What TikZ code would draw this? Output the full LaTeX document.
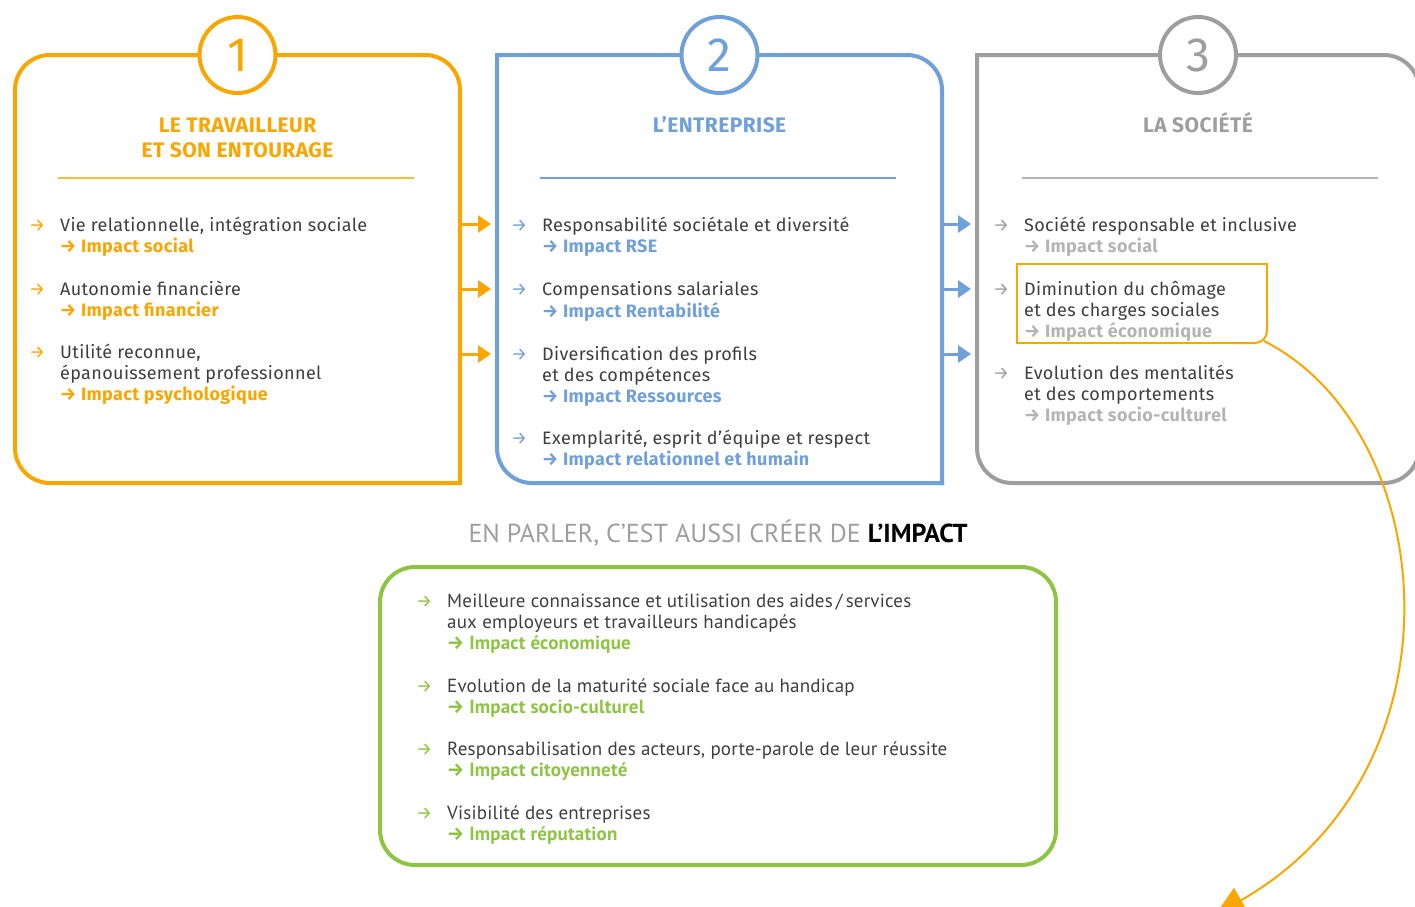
\documentclass[tikz,border=0pt]{standalone}
\usepackage{fontspec}
\setmainfont{Fira Sans}[LetterSpace=2]
\newfontfamily\arrfont{Fira Sans}
\newfontfamily\narrowfont{PT Sans}[LetterSpace=1]
\newfontfamily\narrowtitle{PT Sans}
\newfontfamily\digitfont{Fira Sans}
\usetikzlibrary{arrows.meta,positioning}
\definecolor{ColWorker}{RGB}{249,166,0}
\definecolor{ColCompany}{RGB}{112,160,218}
\definecolor{ColSociety}{RGB}{158,158,158}
\definecolor{ColSocLight}{RGB}{180,180,180}
\definecolor{ColTalk}{RGB}{141,196,66}
\definecolor{ColText}{RGB}{62,62,62}

\newcommand{\arr}{{\arrfont →}}
\newcommand{\bul}[1]{\llap{\textcolor{#1}{\fontsize{18}{21}\selectfont\arr}\hspace{15pt}}\strut}
\newcommand{\imp}[2]{\textcolor{#1}{\bfseries\arr\ #2}\strut}
\newcommand{\hstrut}{\rule{0pt}{20pt}}

\begin{document}
\begin{tikzpicture}[x=1pt, y=-1pt,
    area/.style={inner sep=0pt, outer sep=0pt},
    frame/.style={line width=4pt, line cap=rect, rounded corners=35pt},
    num/.style={circle, draw=#1, line width=4pt, fill=white, minimum size=76pt,
                inner sep=0pt, text=#1, font=\digitfont\fontsize{48}{48}\selectfont},
    title/.style={text=#1, font=\bfseries\fontsize{21}{25}\selectfont, align=center, inner sep=0pt},
    rule/.style={draw=#1, line width=2pt},
    link/.style={draw=#1, line width=3pt, -{Triangle[length=13pt,width=17pt]}, shorten >=6pt},
    item/.style={inner sep=0pt, align=left, text=ColText, font=\fontsize{18}{21}\selectfont},
    gitem/.style={item, font=\narrowfont\fontsize{19}{21}\selectfont},
    hilite/.style={draw=ColWorker, line width=2pt},
    curve/.style={draw=ColWorker, line width=2pt, -{Triangle[length=30pt,width=28pt]}}
]
    \useasboundingbox (0,0) rectangle (1415,906);

    % three frames
    \node[area, minimum width=445pt, minimum height=428pt] (box1) at (237.5,269) {};
    \node[area, minimum width=445pt, minimum height=428pt] (box2) at (719.5,269) {};
    \node[area, minimum width=442pt, minimum height=428pt] (box3) at (1198,269) {};
    \draw[frame, draw=ColWorker] (box1.south east) -- (box1.south west) -- (box1.north west)
        -- (box1.north east) -- (box1.south east);
    \draw[frame, draw=ColCompany] (box2.north west) -- (box2.north east) -- (box2.south east);
    \draw[frame, draw=ColCompany] (box2.south east) -- (box2.south west) -- (box2.north west);
    \draw[frame, draw=ColSociety] (box3.north west) -- (box3.north east) -- (box3.south east)
        -- (box3.south west) -- (box3.north west);

    % numbers and headings
    \node[num=ColWorker] (n1) at (box1.north) {1};
    \node[num=ColCompany] (n2) at (box2.north) {2};
    \node[num=ColSociety] (n3) at (box3.north) {3};
    \node[title=ColWorker, below=17pt of n1] (h1) {\hstrut LE TRAVAILLEUR\\ET SON ENTOURAGE};
    \node[title=ColCompany, below=17pt of n2] (h2) {\hstrut L’ENTREPRISE};
    \node[title=ColSociety, below=17pt of n3] (h3) {\hstrut LA SOCIÉTÉ};
    \draw[rule=ColWorker!75] ([xshift=43pt,yshift=-123pt]box1.north west) -- ([xshift=-46pt,yshift=-123pt]box1.north east);
    \draw[rule=ColCompany] ([xshift=43pt,yshift=-123pt]box2.north west) -- ([xshift=-46pt,yshift=-123pt]box2.north east);
    \draw[rule=ColSocLight] ([xshift=45pt,yshift=-123pt]box3.north west) -- ([xshift=-41pt,yshift=-123pt]box3.north east);

    % le travailleur
    \node[item, anchor=north west] (w1) at (60,217)
        {\bul{ColWorker}Vie relationnelle, intégration sociale\\\imp{ColWorker}{Impact social}};
    \node[item, below right=21pt and 0pt of w1.south west] (w2)
        {\bul{ColWorker}Autonomie financière\\\imp{ColWorker}{Impact financier}};
    \node[item, below right=21pt and 0pt of w2.south west] (w3)
        {\bul{ColWorker}Utilité reconnue,\\épanouissement professionnel\\\imp{ColWorker}{Impact psychologique}};

    % l'entreprise
    \node[item, anchor=north west] (e1) at (542,217)
        {\bul{ColCompany}Responsabilité sociétale et diversité\\\imp{ColCompany}{Impact RSE}};
    \node[item, below right=21pt and 0pt of e1.south west] (e2)
        {\bul{ColCompany}Compensations salariales\\\imp{ColCompany}{Impact Rentabilité}};
    \node[item, below right=21pt and 0pt of e2.south west] (e3)
        {\bul{ColCompany}Diversification des profils\\et des compétences\\\imp{ColCompany}{Impact Ressources}};
    \node[item, below right=21pt and 0pt of e3.south west] (e4)
        {\bul{ColCompany}Exemplarité, esprit d’équipe et respect\\\imp{ColCompany}{Impact relationnel et humain}};

    % la societe
    \node[item, anchor=north west] (s1) at (1024,217)
        {\bul{ColSociety}Société responsable et inclusive\\\imp{ColSocLight}{Impact social}};
    \node[item, below right=21pt and 0pt of s1.south west] (s2)
        {\bul{ColSociety}Diminution du chômage\\et des charges sociales\\\imp{ColSocLight}{Impact économique}};
    \node[item, below right=21pt and 0pt of s2.south west] (s3)
        {\bul{ColSociety}Evolution des mentalités\\et des comportements\\\imp{ColSocLight}{Impact socio-culturel}};

    % links between frames
    \foreach \dy in {169,234,299} {
        \draw[link=ColWorker] ([yshift=-\dy pt]box1.north east) -- ([yshift=-\dy pt]box2.north west);
        \draw[link=ColCompany] ([yshift=-\dy pt]box2.north east) -- ([yshift=-\dy pt]box3.north west);
    }

    % highlight and curved arrow
    \draw[hilite] (1267,320) -- (1267,264) -- (1017,264) -- (1017,343) -- (1245,343);
    \draw[hilite, rounded corners=12pt] (1235,343) -- (1267,343) -- (1267,310);
    \coordinate (hlc) at (1264,341);
    \coordinate (drop) at (1215,915);
    \draw[curve] (hlc) .. controls (1440,430) and (1470,770) .. (drop);

    % en parler
    \node[inner sep=0pt, anchor=base, text=ColSociety, font=\narrowtitle\fontsize{26}{30}\selectfont] (talkhead)
        at (718,542) {EN PARLER, C’EST AUSSI CRÉER DE \textcolor{black}{\bfseries L’IMPACT}};
    \node[draw=ColTalk, line width=4pt, rounded corners=35pt, minimum width=676pt,
          minimum height=298pt, inner sep=0pt] (talk) at (718,716) {};
    \node[gitem, anchor=north west] (t1) at (447,593)
        {\bul{ColTalk}Meilleure connaissance et utilisation des aides\,/\,services\\aux employeurs et travailleurs handicapés\\\imp{ColTalk}{Impact économique}};
    \node[gitem, below right=21pt and 0pt of t1.south west] (t2)
        {\bul{ColTalk}Evolution de la maturité sociale face au handicap\\\imp{ColTalk}{Impact socio-culturel}};
    \node[gitem, below right=21pt and 0pt of t2.south west] (t3)
        {\bul{ColTalk}Responsabilisation des acteurs, porte-parole de leur réussite\\\imp{ColTalk}{Impact citoyenneté}};
    \node[gitem, below right=21pt and 0pt of t3.south west] (t4)
        {\bul{ColTalk}Visibilité des entreprises\\\imp{ColTalk}{Impact réputation}};
\end{tikzpicture}
\end{document}
